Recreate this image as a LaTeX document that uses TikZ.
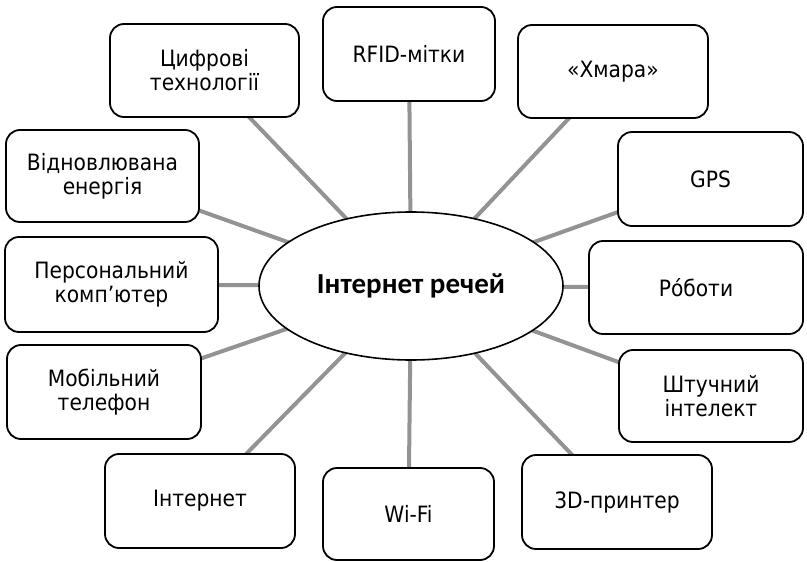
\documentclass[tikz,border=0pt]{standalone}
\usepackage{fontspec}
\setmainfont{DejaVu Sans Condensed}
\newfontfamily\centerfont{Carlito}
\usetikzlibrary{shapes.geometric,backgrounds}
\tikzset{
  box/.style={draw=black, line width=1.8pt, rounded corners=14pt, fill=white,
    align=center, inner sep=0pt, font=\fontsize{22.5}{24}\selectfont},
  hub/.style={draw=black, line width=1.6pt, ellipse, fill=white, inner sep=0pt,
    minimum width=304pt, minimum height=148pt,
    font=\centerfont\bfseries\fontsize{29}{31}\selectfont},
  spoke/.style={draw=gray!85, line width=4pt}
}
\begin{document}
\begin{tikzpicture}[x=1pt,y=-1pt]
\useasboundingbox (0,0) rectangle (807,562);
\node[hub] (c) at (411,286) {Інтернет речей};
\node[box, minimum width=189pt, minimum height=93pt] (dig) at (204.5,70.5) {Цифрові\\технології};
\node[box, minimum width=172pt, minimum height=94pt] (rfid) at (409,54) {RFID-мітки};
\node[box, minimum width=190pt, minimum height=93pt] (cloud) at (613,71.5) {«Хмара»};
\node[box, minimum width=185pt, minimum height=94pt] (gps) at (710.5,179) {GPS};
\node[box, minimum width=214pt, minimum height=93pt] (rob) at (696,287.5) {Ро́боти};
\node[box, minimum width=184pt, minimum height=92pt] (ai) at (711,396) {Штучний\\інтелект};
\node[box, minimum width=190pt, minimum height=94pt] (prn) at (617,502) {3D-принтер};
\node[box, minimum width=171pt, minimum height=92pt] (wifi) at (408.5,514) {Wi-Fi};
\node[box, minimum width=190pt, minimum height=94pt] (inet) at (200,501) {Інтернет};
\node[box, minimum width=194pt, minimum height=94pt] (mob) at (104,392) {Мобільний\\телефон};
\node[box, minimum width=213pt, minimum height=95pt] (pc) at (111.5,284.5) {Персональний\\комп’ютер};
\node[box, minimum width=193pt, minimum height=92pt] (ren) at (102.5,176) {Відновлювана\\енергія};
\begin{scope}[on background layer]
\foreach \n in {dig,rfid,cloud,gps,rob,ai,prn,wifi,inet,mob,pc,ren}
  \draw[spoke] (c.center) -- (\n.center);
\end{scope}
\end{tikzpicture}
\end{document}
